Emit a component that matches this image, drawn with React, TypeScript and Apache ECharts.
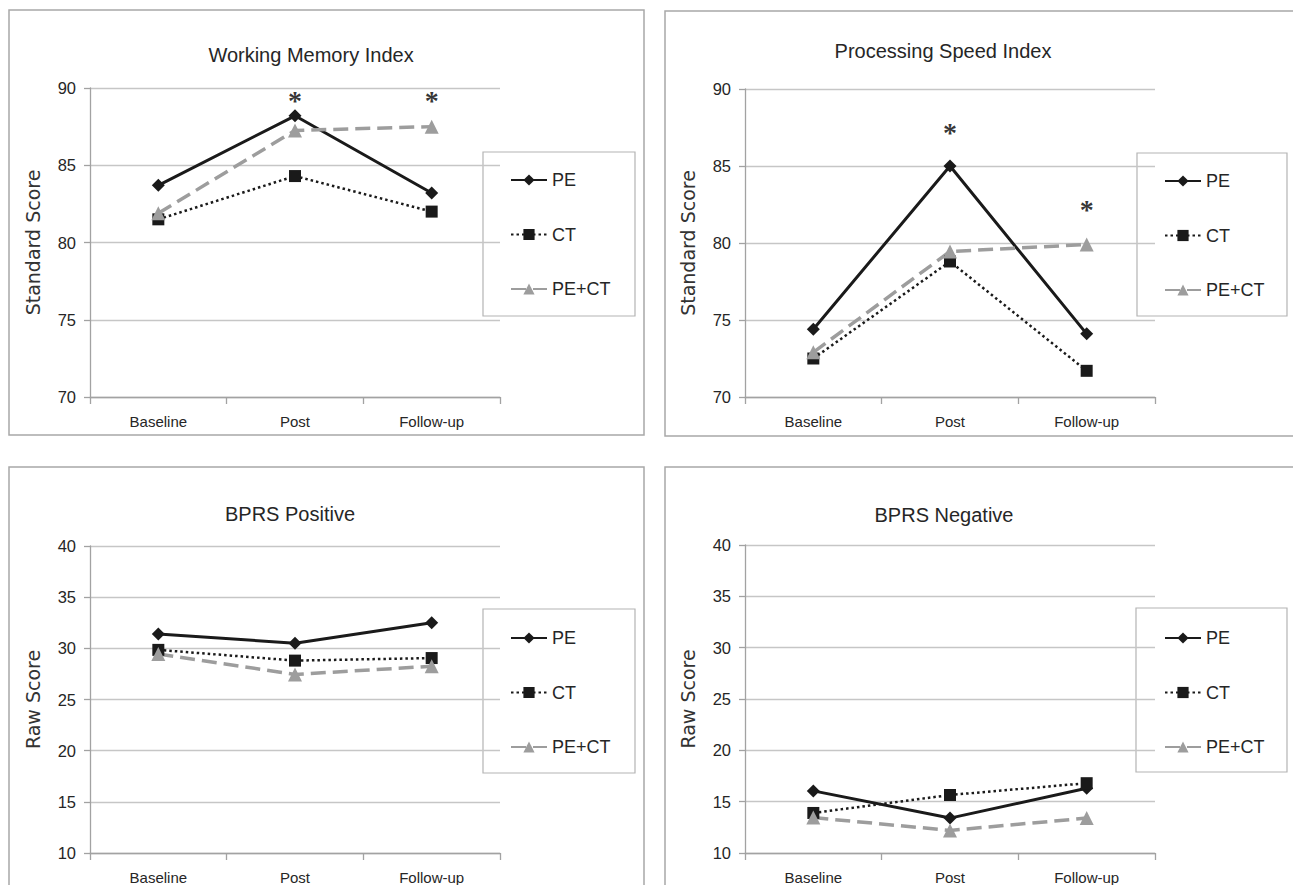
import React, { useEffect, useRef } from "react";
import * as echarts from "echarts";

// ---- data ----
const categories = ["Baseline", "Post", "Follow-up"];
const seriesNames = ["PE", "CT", "PE+CT"];

const wmiPE = [83.7, 88.2, 83.2];
const wmiCT = [81.5, 84.3, 82.0];
const wmiPECT = [81.9, 87.25, 87.5];
const wmiStarCats = ["Post", "Follow-up"];
const wmiStarVals = [89.5, 89.5];

const psiPE = [74.4, 85.0, 74.1];
const psiCT = [72.5, 78.8, 71.7];
const psiPECT = [72.9, 79.45, 79.9];
const psiStarCats = ["Post", "Follow-up"];
const psiStarVals = [87.5, 82.5];

const posPE = [31.4, 30.5, 32.5];
const posCT = [29.85, 28.8, 29.05];
const posPECT = [29.45, 27.45, 28.25];

const negPE = [16.05, 13.4, 16.3];
const negCT = [13.9, 15.65, 16.8];
const negPECT = [13.45, 12.2, 13.4];

const standardRange = [70, 90];
const rawRange = [10, 40];
const tickStep = 5;

const titles = ["Working Memory Index", "Processing Speed Index", "BPRS Positive", "BPRS Negative"];
const yNames = ["Standard Score", "Standard Score", "Raw Score", "Raw Score"];

// ---- layout ----
const FONT = "'Liberation Sans Narrow', 'Liberation Sans', Arial, sans-serif";
const TITLE_FONT = "'Liberation Sans', Arial, sans-serif";
const panels = [
  {
    values: [wmiPE, wmiCT, wmiPECT], range: standardRange,
    stars: wmiStarCats.map((c, i) => [c, wmiStarVals[i]]),
    grid: { left: 90, top: 88, width: 410, height: 309 },
    titleX: 306, titleY: 40, legend: { left: 510, top: 171 },
    box: [483, 152, 152, 164], frame: [9, 10, 635, 425],
  },
  {
    values: [psiPE, psiCT, psiPECT], range: standardRange,
    stars: psiStarCats.map((c, i) => [c, psiStarVals[i]]),
    grid: { left: 745, top: 89, width: 410, height: 308 },
    titleX: 938, titleY: 36, legend: { left: 1164, top: 172 },
    box: [1137, 153, 150, 163], frame: [665, 11, 650, 425],
  },
  {
    values: [posPE, posCT, posPECT], range: rawRange, stars: [],
    grid: { left: 90, top: 546, width: 410, height: 308 },
    titleX: 285, titleY: 499, legend: { left: 510, top: 629 },
    box: [483, 609, 152, 164], frame: [9, 467, 635, 440],
  },
  {
    values: [negPE, negCT, negPECT], range: rawRange, stars: [],
    grid: { left: 745, top: 545, width: 410, height: 308 },
    titleX: 939, titleY: 500, legend: { left: 1164, top: 629 },
    box: [1136, 608, 151, 164], frame: [665, 467, 650, 440],
  },
];

const BLACK = "#1a1a1a";
const GRAY = "#9d9d9d";
const AXIS = "#a2a2a2";
const GRID = "#c6c6c6";
const TEXT = "#262626";

export default function App() {
  const ref = useRef<HTMLDivElement>(null);

  useEffect(() => {
    if (!ref.current) return;
    const chart = echarts.init(ref.current, undefined, { renderer: "svg" });

    const grid: any[] = [];
    const xAxis: any[] = [];
    const yAxis: any[] = [];
    const series: any[] = [];
    const title: any[] = [];
    const legend: any[] = [];
    const graphic: any[] = [];

    panels.forEach((p, i) => {
      grid.push({ ...p.grid, containLabel: false });
      xAxis.push({
        gridIndex: i,
        type: "category",
        data: categories,
        boundaryGap: true,
        axisLine: { lineStyle: { color: AXIS, width: 1.3 } },
        axisTick: { show: true, length: 7, lineStyle: { color: AXIS, width: 1.3 } },
        axisLabel: { fontSize: 15, fontFamily: FONT, color: TEXT, margin: 17 },
      });
      yAxis.push({
        gridIndex: i,
        type: "value",
        min: p.range[0],
        max: p.range[1],
        interval: tickStep,
        axisLine: { show: true, lineStyle: { color: AXIS, width: 1.3 } },
        axisTick: { show: true, length: 6, lineStyle: { color: AXIS, width: 1.3 } },
        splitLine: { lineStyle: { color: GRID, width: 1.3 } },
        axisLabel: { fontSize: 16.5, fontFamily: FONT, color: TEXT, margin: 14 },
        name: yNames[i],
        nameLocation: "middle",
        nameGap: 48,
        nameRotate: 90,
        nameTextStyle: { fontFamily: "'DejaVu Sans', Verdana, sans-serif", fontSize: 19, color: "#333" },
      });
      const [pe, ct, pect] = p.values;
      series.push({
        type: "line", name: seriesNames[0], xAxisIndex: i, yAxisIndex: i, data: pe,
        symbol: "diamond", symbolSize: 13,
        lineStyle: { color: BLACK, width: 3 }, itemStyle: { color: BLACK },
      });
      series.push({
        type: "line", name: seriesNames[1], xAxisIndex: i, yAxisIndex: i, data: ct,
        symbol: "rect", symbolSize: 12,
        lineStyle: { color: BLACK, width: 2.5, type: [2.5, 3] }, itemStyle: { color: BLACK },
      });
      series.push({
        type: "line", name: seriesNames[2], xAxisIndex: i, yAxisIndex: i, data: pect,
        symbol: "triangle", symbolSize: 14,
        lineStyle: { color: GRAY, width: 3.5, type: [15, 7] }, itemStyle: { color: GRAY },
      });
      if (p.stars.length) {
        series.push({
          type: "scatter", name: "sig", xAxisIndex: i, yAxisIndex: i, data: p.stars,
          symbolSize: 1, itemStyle: { color: "rgba(0,0,0,0)" }, silent: true,
          label: {
            show: true, position: "inside", formatter: "*", fontWeight: "bold",
            fontSize: 28, fontFamily: "'Liberation Serif', serif", color: "#000", offset: [0, 5],
          },
        });
      }
      title.push({
        text: titles[i], left: p.titleX, top: p.titleY, textAlign: "center",
        textStyle: { fontSize: 20, fontWeight: "normal", fontFamily: TITLE_FONT, color: TEXT },
      });
      legend.push({
        orient: "vertical", left: p.legend.left, top: p.legend.top, padding: 0,
        itemWidth: 36, itemHeight: 14, itemGap: 36.5, selectedMode: false,
        data: seriesNames,
        textStyle: { fontSize: 18, fontFamily: FONT, color: TEXT },
      });
      graphic.push({
        type: "rect", silent: true, z: -1,
        shape: { x: p.frame[0], y: p.frame[1], width: p.frame[2], height: p.frame[3] },
        style: { fill: "none", stroke: "#a8a8a8", lineWidth: 1.5 },
      });
      graphic.push({
        type: "rect", silent: true,
        shape: { x: p.box[0], y: p.box[1], width: p.box[2], height: p.box[3] },
        style: { fill: "#fff", stroke: "#b4b4b4", lineWidth: 1.2 },
      });
    });

    chart.setOption({
      animation: false,
      backgroundColor: "#ffffff",
      grid, xAxis, yAxis, series, title, legend, graphic,
    });
    return () => chart.dispose();
  }, []);

  return (
    <div
      ref={ref}
      style={{ position: "fixed", left: 0, top: 0, width: 1293, height: 885, background: "#fff" }}
    />
  );
}
